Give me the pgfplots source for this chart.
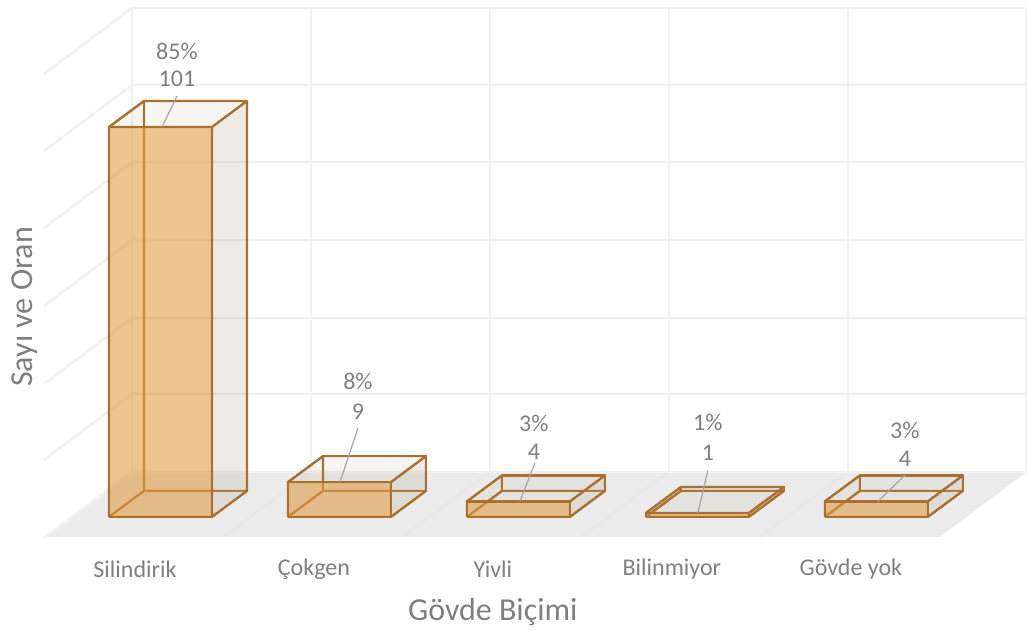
\documentclass[border=0pt]{standalone}
\usepackage{pgfplots}
\pgfplotsset{compat=1.18}
\usepackage{fontspec}
\setmainfont{Carlito}
\definecolor{wallgrid}{HTML}{F1F1F1}
\definecolor{floorc}{HTML}{EBEBEB}
\definecolor{floorgrid}{HTML}{E4E4E4}
\definecolor{edgec}{HTML}{AB702E}
\definecolor{frontc}{HTML}{E09C42}
\definecolor{sidec}{HTML}{BCB29B}
\definecolor{topc}{HTML}{AF9B73}
\definecolor{txt}{HTML}{7F7F7F}
\definecolor{lead}{HTML}{A6A6A6}
% #1 left edge of the front face, #2 value
\newcommand{\barbox}[2]{%
  \pgfmathsetmacro{\xa}{#1}%
  \pgfmathsetmacro{\xb}{#1+103}%
  \pgfmathsetmacro{\xc}{#1+35}%
  \pgfmathsetmacro{\xd}{#1+138}%
  \pgfmathsetmacro{\yb}{6.73}%
  \pgfmathsetmacro{\yt}{#2+6.73}%
  % back
  \addplot[draw=edgec,line width=1.6pt,line join=round,fill=sidec,fill opacity=.07] coordinates {(\xc,\yb)(\xd,\yb)(\xd,\yt)(\xc,\yt)(\xc,\yb)};
  % bottom
  \addplot[draw=edgec,line width=1.6pt,line join=round,fill=sidec,fill opacity=.07] coordinates {(\xa,0)(\xb,0)(\xd,\yb)(\xc,\yb)(\xa,0)};
  % left
  \addplot[draw=edgec,line width=1.6pt,line join=round,fill=sidec,fill opacity=.07] coordinates {(\xa,0)(\xc,\yb)(\xc,\yt)(\xa,#2)(\xa,0)};
  % right
  \addplot[draw=edgec,line width=1.6pt,line join=round,fill=sidec,fill opacity=.2] coordinates {(\xb,0)(\xd,\yb)(\xd,\yt)(\xb,#2)(\xb,0)};
  % top
  \addplot[draw=edgec,line width=1.6pt,line join=round,fill=topc,fill opacity=.05] coordinates {(\xa,#2)(\xb,#2)(\xd,\yt)(\xc,\yt)(\xa,#2)};
  % front
  \addplot[draw=edgec,line width=1.6pt,line join=round,fill=frontc,fill opacity=.57,draw opacity=1] coordinates {(\xa,0)(\xb,0)(\xb,#2)(\xa,#2)(\xa,0)};
}
\newcommand{\wall}[1]{\addplot[draw=wallgrid,line width=1.8pt] coordinates {(44,#1-17.09)(132,#1)(1026,#1)};}
\newcommand{\wallv}[1]{\addplot[draw=wallgrid,line width=1.8pt] coordinates {(#1,11.66)(#1,131.8)};}
\newcommand{\floorl}[1]{\addplot[draw=floorgrid,line width=.6pt] coordinates {(#1,11.66)(#1-88,-5.2)};}
\begin{document}
\begin{tikzpicture}
\begin{axis}[
  scale only axis,
  width=770.25pt, height=472.5pt,
  xmin=0, xmax=1027, ymin=-29.27, ymax=133.9,
  clip=false,
  axis line style={draw=none},
  tick style={draw=none},
  major tick length=0pt,
  ytick=\empty,
  xtick={135,314,493,672,851},
  xticklabels={Silindirik,Çokgen,Yivli,Bilinmiyor,Gövde yok},
  xtick pos=bottom,
  xticklabel style={font=\fontsize{18}{20}\selectfont,text=txt,anchor=center,yshift=45.3pt},
  xlabel={Gövde Biçimi},
  ylabel={Sayı ve Oran},
  xlabel style={font=\fontsize{24}{28}\selectfont,text=txt,anchor=center,at={(axis description cs:0.48,0.0285)}},
  ylabel style={font=\fontsize{24}{28}\selectfont,text=txt,anchor=center,at={(axis description cs:0.0245,0.5127)}},
]
% floor
\addplot[draw=none,fill=floorc] coordinates {(44,-5.2)(132,11.66)(1027,11.66)(940,-5.2)(44,-5.2)};
\floorl{311}\floorl{490}\floorl{669}\floorl{848}
% walls
\wall{11.66}\wall{31.86}\wall{51.5}\wall{71.7}\wall{91.9}\wall{111.9}\wall{131.8}
\wallv{132}\wallv{311}\wallv{490}\wallv{669}\wallv{848}\wallv{1026}
% bars
\barbox{109}{101}
\barbox{288}{9}
\barbox{467}{4}
\barbox{646}{1}
\barbox{825}{4}
% leader lines
\addplot[draw=lead,line width=.9pt] coordinates {(162,101)(177,109)};
\addplot[draw=lead,line width=.9pt] coordinates {(340,9)(358,23)};
\addplot[draw=lead,line width=.9pt] coordinates {(520,4)(535,14)};
\addplot[draw=lead,line width=.9pt] coordinates {(698,1)(708,12)};
\addplot[draw=lead,line width=.9pt] coordinates {(878,4)(905,10.8)};
% data labels
\begin{scope}[every node/.style={font=\fontsize{18}{20}\selectfont,text=txt,anchor=center}]
\node at (axis cs:177,120.7) {85\%};
\node at (axis cs:177,113.4) {101};
\node at (axis cs:358,35.0) {8\%};
\node at (axis cs:358,27.2) {9};
\node at (axis cs:534,24.3) {3\%};
\node at (axis cs:534,16.9) {4};
\node at (axis cs:708,24.4) {1\%};
\node at (axis cs:708,16.6) {1};
\node at (axis cs:905,22.5) {3\%};
\node at (axis cs:905,15.0) {4};
\end{scope}
\end{axis}
\end{tikzpicture}
\end{document}
